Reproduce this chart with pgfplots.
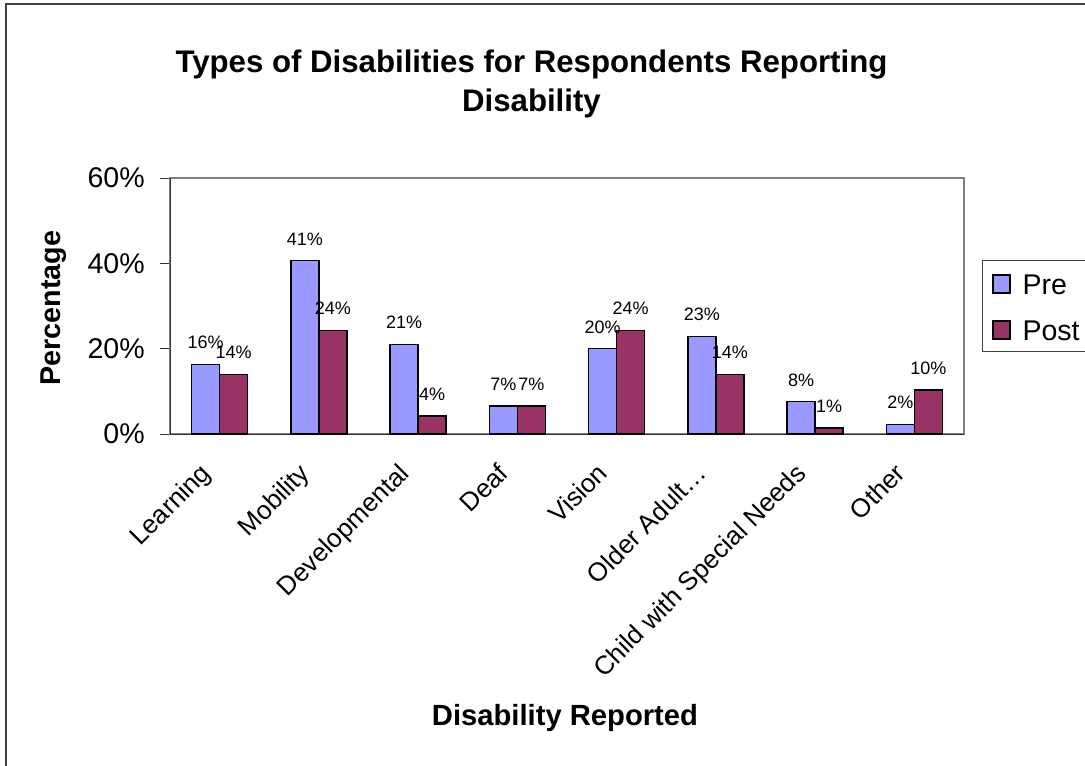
\documentclass[border=0pt]{standalone}
\usepackage{pgfplots}
\pgfplotsset{compat=1.18}
\usepackage{fontspec}
\setmainfont{Liberation Sans}
\definecolor{preblue}{HTML}{9999FF}
\definecolor{postred}{HTML}{993366}

\begin{document}
\begin{tikzpicture}
\begin{axis}[
  at={(127.5pt,248.25pt)}, anchor=south west,
  scale only axis, width=595.5pt, height=192pt,
  xmin=-0.5, xmax=7.5, ymin=0, ymax=60,
  ybar=0pt, bar width=21pt,
  /pgf/number format/assume math mode=true,
  ytick={0,20,40,60},
  yticklabel={\pgfmathprintnumber{\tick}\%},
  xtick={0,...,7},
  xticklabels={Learning,Mobility,Developmental,Deaf,Vision,Older Adult…,Child with Special Needs,Other},
  xtick style={draw=none},
  tick align=outside, major tick length=7.5pt, tick pos=left,
  ytick style={black!80, line width=0.75pt},
  axis line style={gray, line width=1pt},
  yticklabel style={font=\fontsize{21.4}{25}\selectfont, inner sep=0pt, xshift=-11.25pt},
  xticklabel style={font=\fontsize{19.5}{23}\selectfont, inner sep=0pt, xshift=-15.75pt, yshift=-13pt, rotate=45, anchor=north east},
  nodes near coords={\pgfmathprintnumber[fixed,precision=0]{\pgfplotspointmeta}\%},
  every node near coord/.append style={font=\fontsize{13.5}{15}\selectfont, inner sep=0pt, yshift=11pt},
  legend image code/.code={\draw[#1] (0pt,-7.5pt) rectangle (12.75pt,6pt);},
  legend style={at={(1.0223,0.6797)}, anchor=north west, draw=black!75, line width=0.75pt,
    font=\fontsize{21.4}{25}\selectfont, inner xsep=7.5pt, inner ysep=4pt,
    nodes={inner sep=0pt, text height=21.5pt, text depth=4.25pt}, row sep=8.75pt, column sep=9pt},
  legend cell align=left,
]
\draw[black!80, line width=0.75pt] (rel axis cs:0,1) -- (rel axis cs:0,0) -- (rel axis cs:1,0);
\draw[black!80, line width=0.75pt] (axis cs:-0.5,0) -- ++(0pt,-6pt);
\draw[black!80, line width=0.75pt] (axis cs:0.5,0) -- ++(0pt,-6pt);
\draw[black!80, line width=0.75pt] (axis cs:1.5,0) -- ++(0pt,-6pt);
\draw[black!80, line width=0.75pt] (axis cs:2.5,0) -- ++(0pt,-6pt);
\draw[black!80, line width=0.75pt] (axis cs:3.5,0) -- ++(0pt,-6pt);
\draw[black!80, line width=0.75pt] (axis cs:4.5,0) -- ++(0pt,-6pt);
\draw[black!80, line width=0.75pt] (axis cs:5.5,0) -- ++(0pt,-6pt);
\draw[black!80, line width=0.75pt] (axis cs:6.5,0) -- ++(0pt,-6pt);
\draw[black!80, line width=0.75pt] (axis cs:7.5,0) -- ++(0pt,-6pt);
\addplot[fill=preblue, draw=black, line width=1pt] coordinates {
  (0,16.35) (1,40.6) (2,21.0) (3,6.6) (4,20.0) (5,22.9) (6,7.6) (7,2.3)};
\addplot[fill=postred, draw=black, line width=1pt] coordinates {
  (0,14.0) (1,24.3) (2,4.2) (3,6.6) (4,24.3) (5,14.0) (6,1.4) (7,10.3)};
\legend{Pre,Post}
\end{axis}
\node[font=\bfseries\fontsize{23.4}{28}\selectfont, anchor=base] at (398.6pt,519.5pt) {Types of Disabilities for Respondents Reporting};
\node[font=\bfseries\fontsize{23.4}{28}\selectfont, anchor=base] at (398.6pt,489.75pt) {Disability};
\node[font=\bfseries\fontsize{21.5}{26}\selectfont, rotate=90, anchor=base] at (45.75pt,342.75pt) {Percentage};
\node[font=\bfseries\fontsize{21.9}{26}\selectfont, anchor=base] at (423.75pt,30pt) {Disability Reported};
\draw[black!75, line width=1.5pt] (4.5pt,-10pt) -- (4.5pt,571.1pt) -- (830pt,571.1pt);
\pgfresetboundingbox
\useasboundingbox (0pt,0pt) rectangle (813.75pt,573.75pt);
\end{tikzpicture}
\end{document}
